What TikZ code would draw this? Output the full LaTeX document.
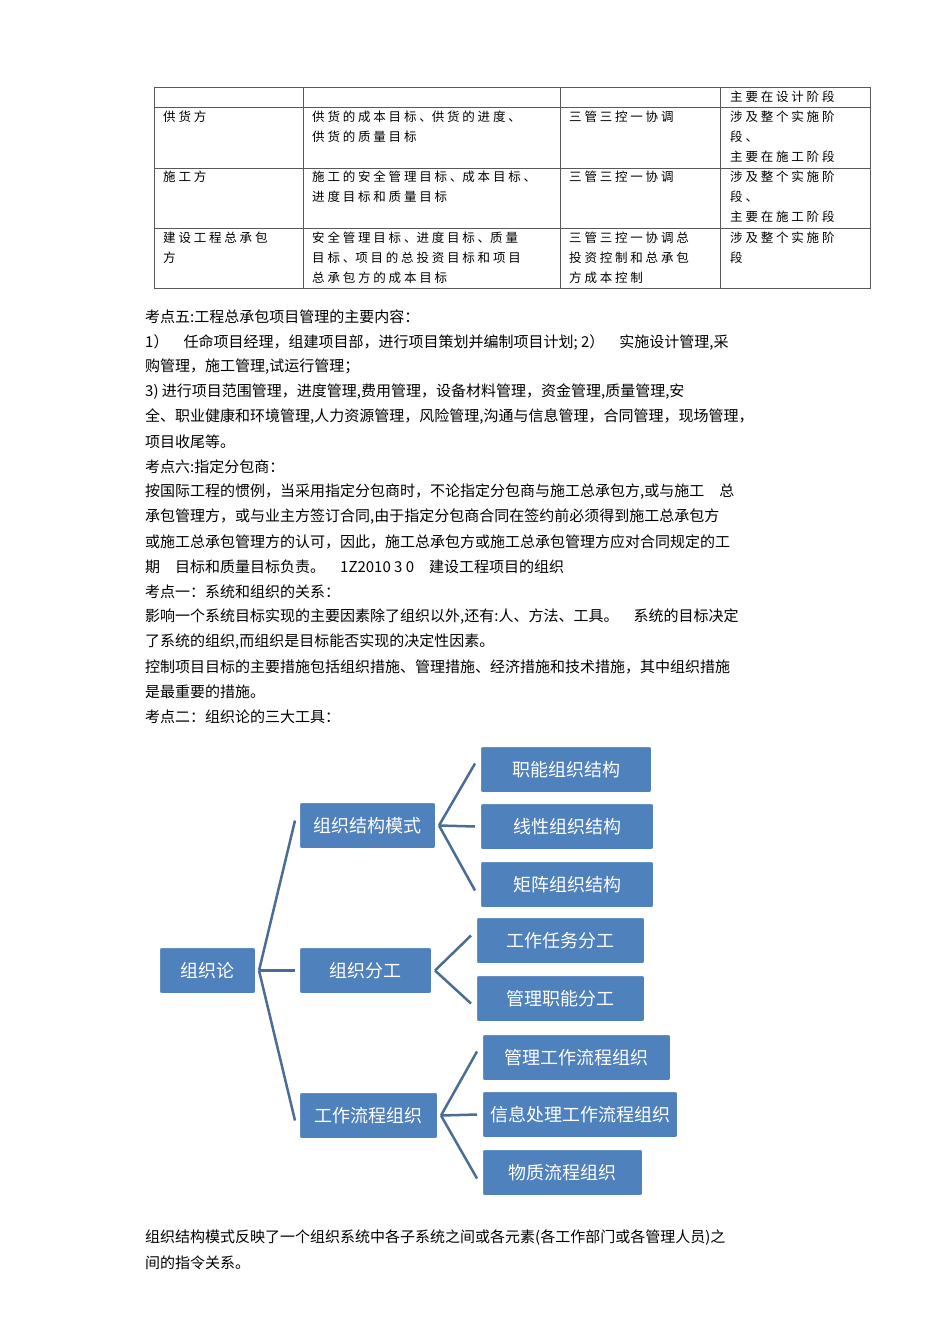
\documentclass[tikz,border=0pt]{standalone}
\usepackage{fontspec}
\setmainfont{Noto Sans CJK SC}
\begin{document}
\begin{tikzpicture}[x=1pt,y=-1pt,
 tl/.style={anchor=west,inner sep=0pt,font=\fontsize{12.5}{14}\selectfont},
 bl/.style={anchor=west,inner sep=0pt,font=\fontsize{15}{17}\selectfont},
 box/.style={draw=white,line width=1pt,fill=blue!45!cyan!50!black!70!white,fill=bx,rounded corners=2pt,text=white,inner sep=0pt,font=\fontsize{18}{20}\selectfont,anchor=north west},
 con/.style={draw=ln,line width=2.5pt}]
\definecolor{bx}{HTML}{4F81BD}
\definecolor{ln}{HTML}{4A6C95}
\useasboundingbox (0,0) rectangle (950,1344);
% table
\draw[gray!70!black,line width=0.6pt] (154,87) rectangle (870,288);
\foreach \y in {107,168,228} \draw[gray!70!black,line width=0.6pt] (154,\y)--(870,\y);
\foreach \x in {303,560,720} \draw[gray!70!black,line width=0.6pt] (\x,87)--(\x,288);
\node[tl] (t0) at (730,97) {主 要 在 设 计 阶 段};
\node[tl] (t1) at (163,117) {供 货 方};
\node[tl] (t2) at (312,117) {供 货 的 成 本 目 标 、供 货 的 进 度 、};
\node[tl] (t3) at (312,137) {供 货 的 质 量 目 标};
\node[tl] (t4) at (569,117) {三 管 三 控 一 协 调};
\node[tl] (t5) at (730,117) {涉 及 整 个 实 施 阶};
\node[tl] (t6) at (730,137) {段 、};
\node[tl] (t7) at (730,157) {主 要 在 施 工 阶 段};
\node[tl] (t8) at (163,177) {施 工 方};
\node[tl] (t9) at (312,177) {施 工 的 安 全 管 理 目 标 、成 本 目 标 、};
\node[tl] (t10) at (312,197) {进 度 目 标 和 质 量 目 标};
\node[tl] (t11) at (569,177) {三 管 三 控 一 协 调};
\node[tl] (t12) at (730,177) {涉 及 整 个 实 施 阶};
\node[tl] (t13) at (730,197) {段 、};
\node[tl] (t14) at (730,217) {主 要 在 施 工 阶 段};
\node[tl] (t15) at (163,238) {建 设 工 程 总 承 包};
\node[tl] (t16) at (163,258) {方};
\node[tl] (t17) at (312,238) {安 全 管 理 目 标 、进 度 目 标 、质 量};
\node[tl] (t18) at (312,258) {目 标 、项 目 的 总 投 资 目 标 和 项 目};
\node[tl] (t19) at (312,278) {总 承 包 方 的 成 本 目 标};
\node[tl] (t20) at (569,238) {三 管 三 控 一 协 调 总};
\node[tl] (t21) at (569,258) {投 资 控 制 和 总 承 包};
\node[tl] (t22) at (569,278) {方 成 本 控 制};
\node[tl] (t23) at (730,238) {涉 及 整 个 实 施 阶};
\node[tl] (t24) at (730,258) {段};
% body
\node[bl] (b1) at (145,317) {考点五:工程总承包项目管理的主要内容：};
\node[bl] (b2) at (145,342) {1）\quad 任命项目经理，组建项目部，进行项目策划并编制项目计划; 2）\quad 实施设计管理,采};
\node[bl] (b3) at (145,367) {购管理，施工管理,试运行管理；};
\node[bl] (b4) at (145,392) {3) 进行项目范围管理，进度管理,费用管理，设备材料管理，资金管理,质量管理,安};
\node[bl] (b5) at (145,417) {全、职业健康和环境管理,人力资源管理，风险管理,沟通与信息管理，合同管理，现场管理，};
\node[bl] (b6) at (145,442) {项目收尾等。};
\node[bl] (b7) at (145,467) {考点六:指定分包商：};
\node[bl] (b8) at (145,492) {按国际工程的惯例，当采用指定分包商时，不论指定分包商与施工总承包方,或与施工\quad 总};
\node[bl] (b9) at (145,517) {承包管理方，或与业主方签订合同,由于指定分包商合同在签约前必须得到施工总承包方};
\node[bl] (b10) at (145,542) {或施工总承包管理方的认可，因此，施工总承包方或施工总承包管理方应对合同规定的工};
\node[bl] (b11) at (145,567) {期\quad 目标和质量目标负责。\quad 1Z2010 3 0\quad 建设工程项目的组织};
\node[bl] (b12) at (145,592) {考点一：系统和组织的关系：};
\node[bl] (b13) at (145,617) {影响一个系统目标实现的主要因素除了组织以外,还有:人、方法、工具。\quad 系统的目标决定};
\node[bl] (b14) at (145,642) {了系统的组织,而组织是目标能否实现的决定性因素。};
\node[bl] (b15) at (145,667) {控制项目目标的主要措施包括组织措施、管理措施、经济措施和技术措施，其中组织措施};
\node[bl] (b16) at (145,692) {是最重要的措施。};
\node[bl] (b17) at (145,717) {考点二：组织论的三大工具：};
\node[bl] (b18) at (145,1238) {组织结构模式反映了一个组织系统中各子系统之间或各元素(各工作部门或各管理人员)之};
\node[bl] (b19) at (145,1263) {间的指令关系。};
% diagram
\node[box,minimum width=96pt,minimum height=46pt] (r) at (159,947) {组织论};
\node[box,minimum width=136pt,minimum height=46pt] (a) at (299,802) {组织结构模式};
\node[box,minimum width=132pt,minimum height=46pt] (b) at (299,947) {组织分工};
\node[box,minimum width=138pt,minimum height=46pt] (c) at (299,1092) {工作流程组织};
\node[box,minimum width=171pt,minimum height=46pt] (a1) at (480,746) {职能组织结构};
\node[box,minimum width=173pt,minimum height=46pt] (a2) at (480,803) {线性组织结构};
\node[box,minimum width=173pt,minimum height=46pt] (a3) at (480,861) {矩阵组织结构};
\node[box,minimum width=168pt,minimum height=46pt] (b1n) at (476,917) {工作任务分工};
\node[box,minimum width=168pt,minimum height=46pt] (b2n) at (476,975) {管理职能分工};
\node[box,minimum width=188pt,minimum height=46pt] (c1) at (482,1034) {管理工作流程组织};
\node[box,minimum width=195pt,minimum height=46pt] (c2) at (482,1091) {信息处理工作流程组织};
\node[box,minimum width=160pt,minimum height=46pt] (c3) at (482,1149) {物质流程组织};
\coordinate (rj) at ([xshift=3pt]r.east);
\draw[con] (rj) -- ([xshift=-4pt,yshift=5pt]a.west);
\draw[con] (rj) -- ([xshift=-4pt]b.west);
\draw[con] (rj) -- ([xshift=-4pt,yshift=-5pt]c.west);
\coordinate (aj) at ([xshift=3pt]a.east);
\draw[con] (aj) -- ([xshift=-5pt,yshift=6pt]a1.west);
\draw[con] (aj) -- ([xshift=-5pt]a2.west);
\draw[con] (aj) -- ([xshift=-5pt,yshift=-6pt]a3.west);
\coordinate (bj) at ([xshift=3pt]b.east);
\draw[con] (bj) -- ([xshift=-5pt,yshift=5pt]b1n.west);
\draw[con] (bj) -- ([xshift=-5pt,yshift=-5pt]b2n.west);
\coordinate (cj) at ([xshift=3pt]c.east);
\draw[con] (cj) -- ([xshift=-5pt,yshift=6pt]c1.west);
\draw[con] (cj) -- ([xshift=-5pt]c2.west);
\draw[con] (cj) -- ([xshift=-5pt,yshift=-6pt]c3.west);
\end{tikzpicture}
\end{document}
